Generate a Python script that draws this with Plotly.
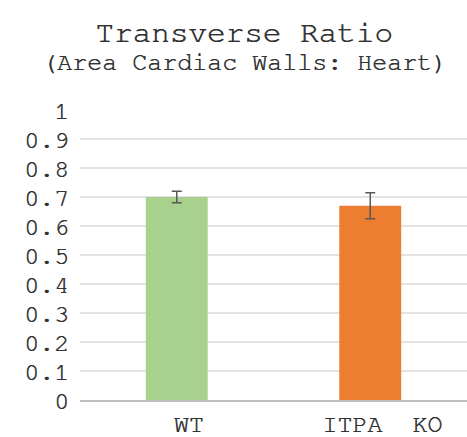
import plotly.graph_objects as go

# Transverse ratio (area of cardiac walls relative to whole heart)
groups = ["WT", "ITPA\u00a0\u00a0KO"]
ratio_mean = [0.70, 0.67]
ratio_err = [0.02, 0.045]
bar_colors = ["#a9d18e", "#ed7d31"]
y_ticks = [0, 0.1, 0.2, 0.3, 0.4, 0.5, 0.6, 0.7, 0.8, 0.9, 1]
y_tick_text = ["0", "0.1", "0.2", "0.3", "0.4", "0.5", "0.6", "0.7", "0.8", "0.9", "1"]

FONT = "Nimbus Mono PS, FreeMono, Courier New, Liberation Mono, monospace"
TEXT = "#333333"

W, H = 467, 437
PLOT_TOP, PLOT_BOTTOM = 110, 404


def paper_y(px):
    """Convert a pixel row (from the top of the figure) to paper y."""
    return (PLOT_BOTTOM - px) / (PLOT_BOTTOM - PLOT_TOP)


def mono(size):
    # regular Courier-style face, thickened slightly with a soft outline
    return dict(family=FONT, size=size, color=TEXT,
                shadow="0.6px 0 0 #333333")


fig = go.Figure(
    go.Bar(
        x=groups,
        y=ratio_mean,
        marker=dict(color=bar_colors, line=dict(width=0)),
        width=0.32,
        error_y=dict(type="data", array=ratio_err, visible=True,
                     color="#595959", thickness=1.5, width=5),
    )
)

fig.update_layout(
    width=W,
    height=H,
    margin=dict(l=80, r=0, t=PLOT_TOP, b=H - PLOT_BOTTOM),
    paper_bgcolor="white",
    plot_bgcolor="white",
    showlegend=False,
    font=dict(family=FONT, color=TEXT),
    title=dict(
        text="Transverse Ratio",
        x=244 / W, xanchor="center",
        y=1 - 31 / H, yanchor="middle",
        font=mono(31),
    ),
    annotations=[
        dict(
            text="(Area Cardiac Walls: Heart)",
            xref="paper", yref="paper",
            x=(244 - 80) / (W - 80), xanchor="center",
            y=paper_y(62), yanchor="middle",
            showarrow=False,
            font=mono(25),
        )
    ],
)

fig.update_xaxes(
    type="category",
    range=[-0.5, 1.5],
    showgrid=False,
    showline=True,
    linecolor="#bfbfbf",
    linewidth=1.5,
    ticks="",
    ticklabelshift=12,
    tickfont=mono(25),
)
fig.update_yaxes(
    range=[0, 1],
    tickvals=y_ticks,
    ticktext=y_tick_text,
    showgrid=True,
    gridcolor="#e3e3e3",
    gridwidth=1.5,
    zeroline=False,
    showline=False,
    ticks="",
    ticklabelstandoff=10,
    tickfont=mono(25),
)

fig.write_html("out.html")
